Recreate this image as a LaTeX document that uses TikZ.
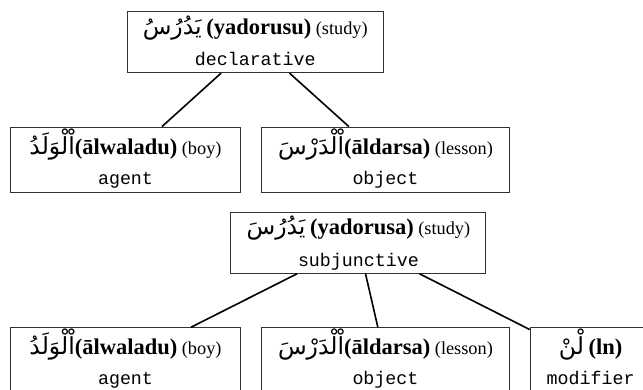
\documentclass[tikz,border=0pt]{standalone}
\usepackage{fontspec}
\setmainfont{Liberation Serif}
\setmonofont{Liberation Mono}
\newfontfamily\arabicfont[Script=Arabic]{DejaVu Sans}
\TeXXeTstate=1

% Arabic word, set right to left
\newcommand\arword[1]{{\arabicfont\fontsize{23.5}{26}\selectfont\beginR #1\endR}}
% bold transliteration
\newcommand\translit[1]{{\fontsize{22.5}{25}\selectfont\bfseries #1}}

\tikzset{
  wordbox/.style={draw=black!80, line width=0.9pt, inner sep=0pt},
  link/.style={line width=1.6pt},
  wordline/.style={anchor=base, inner sep=0pt, font=\fontsize{18.3}{21}\selectfont},
  roleline/.style={anchor=base, inner sep=0pt, font=\fontsize{18.3}{21}\selectfont\ttfamily},
}

\begin{document}
\begin{tikzpicture}[x=1pt, y=-1pt]
\useasboundingbox (0,0) rectangle (643,390);
\clip (0,0) rectangle (643,390);

% ---- declarative tree ----
\node[wordbox, minimum width=256.3pt, minimum height=61pt] (decl) at (255.25,42.2) {};
\node[wordline] (declW) at ([yshift=-23.3pt]decl.north) {\arword{يَدُرُسُ} \translit{(yadorusu)} (study)};
\node[roleline] (declR) at ([yshift=-54pt]decl.north) {declarative};

\node[wordbox, minimum width=230.4pt, minimum height=65.3pt] (agentA) at (125.5,159.65) {};
\node[wordline] (agentAW) at ([yshift=-28pt]agentA.north) {\arword{اْلْوَلَدُ}\translit{(ālwaladu)} (boy)};
\node[roleline] (agentAR) at ([yshift=-58pt]agentA.north) {agent};

\node[wordbox, minimum width=247.7pt, minimum height=65.3pt] (objA) at (385.45,159.65) {};
\node[wordline] (objAW) at ([yshift=-28pt]objA.north) {\arword{اْلْدَرْسَ}\translit{(āldarsa)} (lesson)};
\node[roleline] (objAR) at ([yshift=-58pt]objA.north) {object};

\draw[link] (decl) -- (agentA);
\draw[link] (decl) -- (objA);

% ---- subjunctive tree ----
\node[wordbox, minimum width=255pt, minimum height=61pt] (subj) at (358.4,242.8) {};
\node[wordline] (subjW) at ([yshift=-22.7pt]subj.north) {\arword{يَدُرُسَ} \translit{(yadorusa)} (study)};
\node[roleline] (subjR) at ([yshift=-54.4pt]subj.north) {subjunctive};

\node[wordbox, minimum width=230.4pt, minimum height=65.3pt] (agentB) at (125.5,360.35) {};
\node[wordline] (agentBW) at ([yshift=-27.3pt]agentB.north) {\arword{اْلْوَلَدُ}\translit{(ālwaladu)} (boy)};
\node[roleline] (agentBR) at ([yshift=-57.3pt]agentB.north) {agent};

\node[wordbox, minimum width=247.7pt, minimum height=65.3pt] (objB) at (385.45,360.35) {};
\node[wordline] (objBW) at ([yshift=-27.3pt]objB.north) {\arword{اْلْدَرْسَ}\translit{(āldarsa)} (lesson)};
\node[roleline] (objBR) at ([yshift=-57.3pt]objB.north) {object};

\node[wordbox, minimum width=120.8pt, minimum height=65.3pt] (mod) at (590.6,360.35) {};
\node[wordline] (modW) at ([yshift=-27.3pt]mod.north) {\arword{لْنْ} \translit{(ln)}};
\node[roleline] (modR) at ([yshift=-57.3pt]mod.north) {modifier};

\draw[link] (subj) -- (agentB);
\draw[link] (subj) -- (objB);
\draw[link] (subj) -- (mod);
\end{tikzpicture}
\end{document}
